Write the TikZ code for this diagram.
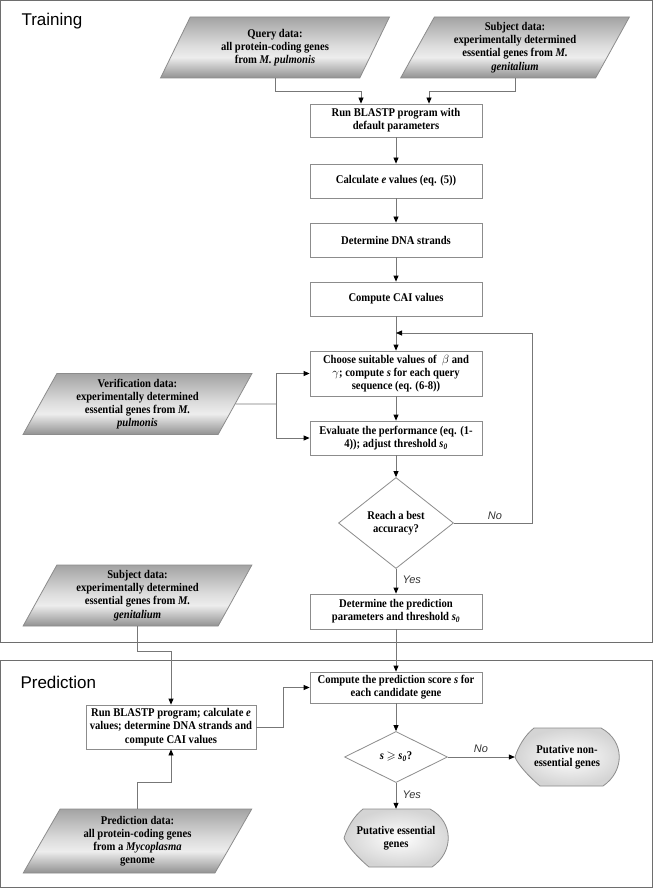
\documentclass[tikz,border=0pt]{standalone}
\usepackage{amssymb}
\usepackage{fontspec}
\setmainfont[FakeStretch=0.9]{Liberation Serif}
\newfontfamily\labfont{Liberation Sans}
\usetikzlibrary{shapes.geometric,arrows.meta,calc}
\definecolor{frameC}{HTML}{6E6E6E}
\definecolor{lineC}{HTML}{777777}
\definecolor{boxC}{HTML}{8C8C8C}
\pgfdeclareverticalshading{parash}{100bp}{color(0bp)=(black!43); color(25bp)=(black!43); color(42bp)=(black!7); color(52bp)=(black!14); color(75bp)=(black!36); color(100bp)=(black!36)}
\newcommand\termshape[1]{%
  \shade[draw=boxC, line width=0.8pt, inner color=white, outer color=black!17]
   ($(#1)+(-33,-29)$) -- ($(#1)+(34,-29)$)
   .. controls ($(#1)+(58,-16)$) and ($(#1)+(58,14)$) .. ($(#1)+(36,29)$)
   -- ($(#1)+(-27,29)$)
   .. controls ($(#1)+(-40,18)$) and ($(#1)+(-50,6)$) .. ($(#1)+(-52,0)$)
   .. controls ($(#1)+(-49,-10)$) and ($(#1)+(-42,-22)$) .. ($(#1)+(-33,-29)$) -- cycle;}
\begin{document}
\begin{tikzpicture}[x=1pt,y=-1pt,
  font=\fontsize{11.8}{13.2}\selectfont\bfseries,
  box/.style={draw=boxC, line width=0.8pt, fill=white, minimum width=172pt, align=center, inner sep=2pt},
  para/.style={trapezium, trapezium left angle=63, trapezium right angle=117, trapezium stretches=true,
     draw=boxC, line width=0.8pt, shading=parash,
     minimum width=229pt, minimum height=61pt, align=center, inner sep=0pt},
  dia/.style={diamond, draw=boxC, line width=0.8pt, fill=white, align=center, inner sep=0pt},
  term/.style={minimum width=104pt, minimum height=58pt, align=center, inner sep=0pt},
  conn/.style={draw=lineC, line width=0.8pt},
  arr/.style={conn, -{Triangle[length=6pt,width=5pt,color=black]}},
  lab/.style={font=\labfont\itshape\fontsize{11}{13}\selectfont, text=black!80},
  ttl/.style={font=\labfont\fontsize{17}{20}\selectfont, anchor=west}]
\useasboundingbox (0,0) rectangle (653,890);
\fill[white] (0,0) rectangle (653,890);
% frames
\draw[frameC, line width=1pt] (0.5,0.5) rectangle (652.5,642);
\draw[frameC, line width=1pt] (0.5,660) rectangle (652.5,887.5);
\node[ttl] (tr) at (18,21) {Training};
\node[ttl] (pr) at (17,682) {Prediction};
% training
\node[para] (q) at (275,47.5) {Query data:\\all protein-coding genes\\from \textit{M. pulmonis}};
\node[para] (s) at (515,47.5) {Subject data:\\experimentally determined\\essential genes from \textit{M.}\\\textit{genitalium}};
\node[box, minimum height=33pt] (b1) at (396,120.5) {Run BLASTP program with\\default parameters};
\node[box, minimum height=34pt] (b2) at (396,181) {Calculate \textit{e} values (eq. (5))};
\node[box, minimum height=34pt] (b3) at (396,240) {Determine DNA strands};
\node[box, minimum height=34pt] (b4) at (396,299) {Compute CAI values};
\node[box, minimum height=45pt] (ch) at (396,373.5) {Choose suitable values of\ \ $\beta$ and\\$\gamma$; compute \textit{s} for each query\\sequence (eq. (6-8))};
\node[box, minimum height=34pt] (ev) at (396,438) {Evaluate the performance (eq. (1-\\4)); adjust threshold \textit{s}\textsubscript{\textit{0}}};
\node[dia, minimum width=115pt, minimum height=91pt] (d1) at (396,523) {Reach a best\\accuracy?};
\node[box, minimum height=35pt] (det) at (396,611.5) {Determine the prediction\\parameters and threshold \textit{s}\textsubscript{\textit{0}}};
\node[para] (v) at (137.5,404) {Verification data:\\experimentally determined\\essential genes from \textit{M.}\\\textit{pulmonis}};
\node[para] (s2) at (137.5,595.5) {Subject data:\\experimentally determined\\essential genes from \textit{M.}\\\textit{genitalium}};
% prediction
\node[box, minimum height=31pt] (cp) at (396,687.5) {Compute the prediction score \textit{s} for\\each candidate gene};
\node[box, minimum width=170pt, minimum height=44pt] (r2) at (171,727) {Run BLASTP program; calculate \textit{e}\\values; determine DNA strands and\\compute CAI values};
\node[dia, minimum width=103pt, minimum height=51pt] (d2) at (396,757) {\textit{s} $\geqslant$ \textit{s}\textsubscript{\textit{0}}?};
\coordinate (nec) at (567,757);
\coordinate (esc) at (396,838);
\termshape{nec}
\termshape{esc}
\node[term] (ne) at (nec) {Putative non-\\essential genes};
\node[term] (es) at (esc) {Putative essential\\genes};
\node[para, minimum height=64pt] (pd) at (137.5,841) {Prediction data:\\all protein-coding genes\\from a \textit{Mycoplasma}\\genome};
% connectors training
\draw[arr] (q.south) -- ++(0,13.5) -| ([xshift=-35pt]b1.north);
\draw[arr] (s.south) -- ++(0,13.5) -| ([xshift=33pt]b1.north);
\draw[arr] (b1.south) -- (b2.north);
\draw[arr] (b2.south) -- (b3.north);
\draw[arr] (b3.south) -- (b4.north);
\draw[arr] (b4.south) -- (ch.north);
\coordinate (fb) at (396,333);
\draw[arr] (d1.east) -- ++(78.5,0) |- (fb);
\node[lab] (no1) at (495,516) {No};
\coordinate (jv) at (276,404);
\draw[conn] (v.east) -- (jv);
\draw[arr] (jv) |- (ch.west);
\draw[arr] (jv) |- (ev.west);
\draw[arr] (ch.south) -- (ev.north);
\draw[arr] (ev.south) -- (d1.north);
\draw[arr] (d1.south) -- (det.north);
\node[lab, anchor=west] (y1) at (399,580) {Yes};
\draw[arr] (det.south) -- (cp.north);
% connectors prediction
\draw[arr] (s2.south) -- ++(0,25) -| (r2.north);
\draw[arr] (pd.north) -- ++(0,-26) -| (r2.south);
\draw[arr] (r2.east) -- ++(27,0) |- (cp.west);
\draw[arr] (cp.south) -- (d2.north);
\draw[arr] (d2.east) -- (ne.west);
\node[lab] (no2) at (481,749) {No};
\draw[arr] (d2.south) -- (es.north);
\node[lab, anchor=west] (y2) at (399,795) {Yes};
\end{tikzpicture}
\end{document}
